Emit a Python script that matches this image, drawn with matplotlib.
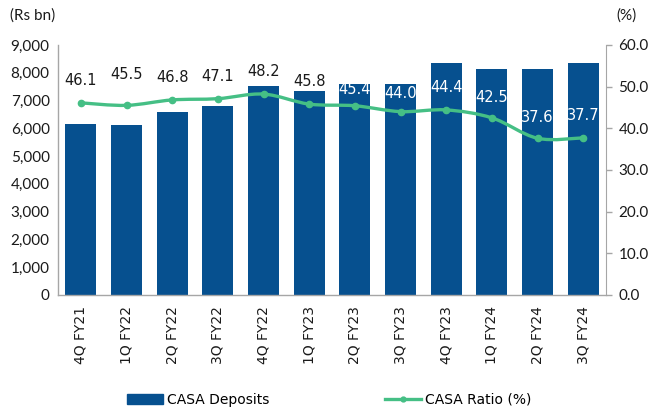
import numpy as np
import matplotlib.pyplot as plt
from matplotlib.path import Path
from matplotlib.patches import PathPatch
from matplotlib.lines import Line2D
from matplotlib.patches import Patch
from matplotlib.ticker import FuncFormatter

quarters = ['4Q FY21', '1Q FY22', '2Q FY22', '3Q FY22', '4Q FY22', '1Q FY23',
            '2Q FY23', '3Q FY23', '4Q FY23', '1Q FY24', '2Q FY24', '3Q FY24']
casa_deposits = [6150, 6100, 6590, 6800, 7520, 7340, 7600, 7600, 8350, 8120, 8150, 8350]
casa_ratio = [46.1, 45.5, 46.8, 47.1, 48.2, 45.8, 45.4, 44.0, 44.4, 42.5, 37.6, 37.7]

bar_color = '#06508F'
line_color = '#45BF85'
axis_gray = '#A6A6A6'
# label styling: vertical offset in points, colour
label_offsets = [16, 22, 16, 16, 16, 16, 12, 13, 16, 15, 15, 16]
label_colors = ['#1A1A1A'] * 6 + ['white'] * 6


def smooth_path(xs, ys):
    # excel-style smoothed line: catmull-rom segments as cubic beziers
    xs = np.asarray(xs, float)
    ys = np.asarray(ys, float)
    n = len(xs)
    verts = [(xs[0], ys[0])]
    codes = [Path.MOVETO]
    for i in range(n - 1):
        p0 = i - 1 if i > 0 else i
        p3 = i + 2 if i + 2 < n else i + 1
        c1 = (xs[i] + (xs[i + 1] - xs[p0]) / 6, ys[i] + (ys[i + 1] - ys[p0]) / 6)
        c2 = (xs[i + 1] - (xs[p3] - xs[i]) / 6, ys[i + 1] - (ys[p3] - ys[i]) / 6)
        verts += [c1, c2, (xs[i + 1], ys[i + 1])]
        codes += [Path.CURVE4] * 3
    return Path(verts, codes)


fig = plt.figure(figsize=(6.54, 4.12), dpi=100)
ax = fig.add_axes([0.0887, 0.284, 0.838, 0.607])
x = np.arange(len(quarters))

ax.bar(x, casa_deposits, width=0.68, color=bar_color, zorder=2)
ax.set_xlim(-0.5, len(quarters) - 0.5)
ax.set_ylim(0, 9000)
ax.set_yticks(np.arange(0, 9001, 1000))
ax.yaxis.set_major_formatter(FuncFormatter(lambda v, p: f'{v:,.0f}'))
ax.set_xticks(x)
ax.set_xticklabels(quarters, rotation=90, fontsize=10, family='DejaVu Sans')
for lab in ax.get_yticklabels():
    lab.set_family('Lato')
    lab.set_fontsize(11)
ax.tick_params(axis='y', length=0, pad=6, colors='#1A1A1A')
ax.tick_params(axis='x', length=0, pad=8, colors='#1A1A1A')
for s in ['top', 'right']:
    ax.spines[s].set_visible(False)
for s in ['left', 'bottom']:
    ax.spines[s].set_color(axis_gray)
    ax.spines[s].set_linewidth(1)

ax2 = ax.twinx()
ax2.set_ylim(0, 60)
ax2.set_yticks(np.arange(0, 60.1, 10))
ax2.yaxis.set_major_formatter(FuncFormatter(lambda v, p: f'{v:.1f}'))
for lab in ax2.get_yticklabels():
    lab.set_family('Lato')
    lab.set_fontsize(11)
ax2.tick_params(axis='y', length=4, width=1, color=axis_gray, pad=5, labelcolor='#1A1A1A')
for s in ['top', 'left', 'bottom']:
    ax2.spines[s].set_visible(False)
ax2.spines['right'].set_color(axis_gray)

ax2.add_patch(PathPatch(smooth_path(x, casa_ratio), fill=False, edgecolor=line_color,
                        lw=2.4, capstyle='round', zorder=3))
ax2.plot(x, casa_ratio, 'o', color=line_color, ms=4.5, zorder=4)

for xi, v, off, c in zip(x, casa_ratio, label_offsets, label_colors):
    ax2.annotate(f'{v:.1f}', (xi, v), xytext=(0, off), textcoords='offset points',
                 ha='center', va='center', fontsize=10.5, color=c, family='DejaVu Sans')

fig.text(0.015, 0.963, '(Rs bn)', fontsize=11, family='Lato', color='#1A1A1A', va='center')
fig.text(0.943, 0.963, '(%)', fontsize=11, family='Lato', color='#1A1A1A', va='center')

handles = [Patch(color=bar_color),
           Line2D([], [], color=line_color, lw=2.4, marker='o', ms=3.5)]
fig.legend(handles, ['CASA Deposits', 'CASA Ratio (%)'], loc='center',
           bbox_to_anchor=(0.503, 0.03), ncol=2, frameon=False,
           prop={'family': 'DejaVu Sans', 'size': 10}, handlelength=2.6,
           handleheight=0.8, handletextpad=0.3, columnspacing=8.3)

fig.savefig('out.png', dpi=100)
